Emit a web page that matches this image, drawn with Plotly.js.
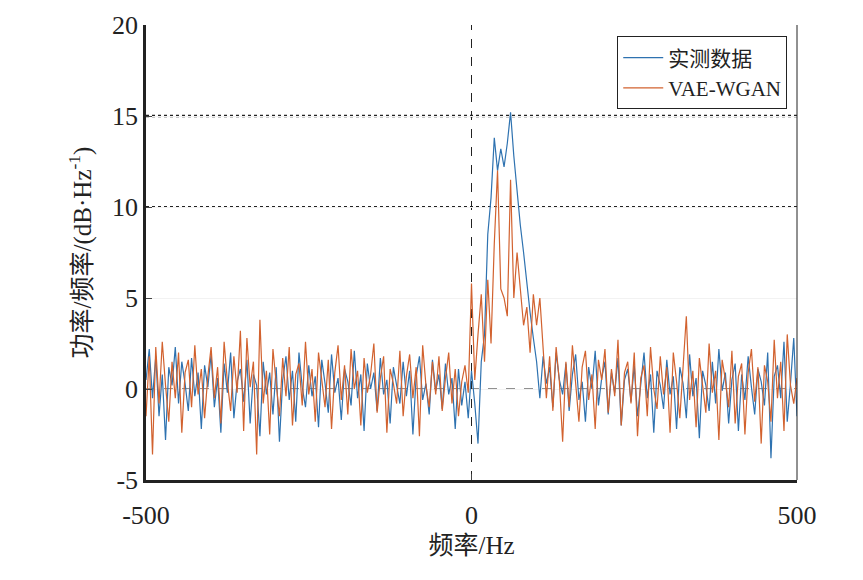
<!DOCTYPE html><html><head><meta charset="utf-8"><script src="https://cdn.plot.ly/plotly-3.0.1.min.js"></script></head><body style="margin:0"><div id="c" style="width:863px;height:580px"></div><script>
const measured=[0.5,2.2,-0.5,1.8,-1.5,0.8,-2.8,1.2,0.2,2.3,
-0.8,1.5,0.3,-1.2,1.7,-0.4,0.9,-2.2,1.3,0.1,
1.9,-1.0,0.6,-2.4,1.4,-0.2,2.0,-1.6,0.4,1.1,
-0.7,1.6,-1.9,0.8,0.2,-2.6,1.5,-0.3,0.9,-1.4,
1.2,-2.9,0.5,1.8,-0.6,1.0,-1.8,2.0,0.1,-1.0,
1.3,-0.4,0.7,-2.1,1.6,0.3,-1.3,1.9,-0.2,0.6,
-1.7,1.1,0.4,-0.9,2.1,-0.5,0.8,-2.3,1.4,0.0,
0.9,-1.2,1.7,-0.3,0.5,-1.9,1.2,0.2,-0.8,1.5,
-0.4,1.0,-2.5,0.7,1.8,-0.6,0.3,-1.4,1.6,-0.1,
0.8,-1.1,1.4,-0.3,0.6,-2.2,1.1,-0.9,0.4,-1.6,
1.0,-0.8,-3.0,1.5,3.0,8.5,10.5,13.8,12.0,13.2,
12.2,13.5,15.2,12.8,10.8,9.0,7.5,5.8,4.2,2.8,
1.5,-0.5,1.8,0.3,1.2,-1.0,2.0,0.5,-0.3,1.4,
-1.2,0.8,1.9,-0.6,0.4,-1.8,1.2,0.0,2.1,-0.9,
0.6,1.5,-1.4,0.9,-0.2,1.7,-2.0,0.5,1.1,-0.7,
1.3,-1.5,0.4,2.0,-0.5,0.8,-2.4,1.0,0.2,-1.1,
1.6,-0.3,0.7,-2.2,1.2,0.3,-1.6,1.9,-0.4,0.6,
-2.7,1.0,0.2,-1.2,1.5,-0.8,2.2,-0.1,0.9,-1.9,
0.5,1.4,-2.3,0.8,-0.6,1.8,0.1,-1.4,1.1,0.4,
-0.9,2.0,-3.8,0.7,1.3,-0.5,2.6,-1.8,0.3,2.8,
-1.5];
const vaeWgan=[-1.5,1.8,-3.6,2.3,-0.8,2.6,0.2,-1.8,1.5,-0.5,
2.0,-2.4,0.9,1.6,-1.0,2.4,-0.3,1.1,-1.6,0.7,
2.3,-0.5,1.2,-1.9,2.6,0.4,-1.2,1.8,-0.2,3.2,
-2.3,2.8,0.1,1.5,-3.6,3.8,-0.8,1.0,-2.5,2.2,
0.3,-1.5,1.7,-0.4,2.3,-2.0,0.8,1.4,-0.9,2.6,
-0.3,1.1,-1.8,2.0,0.5,-1.0,1.6,-2.2,0.9,2.4,
-0.6,1.3,-1.4,2.2,0.0,1.0,-2.0,1.7,-0.2,0.8,
2.5,-1.3,0.6,1.8,-2.4,1.1,0.3,-0.8,2.1,-1.5,
0.7,1.9,-0.5,1.2,-2.6,2.4,0.2,-1.0,1.5,-0.3,
1.8,-1.2,0.6,2.0,-0.8,1.1,-1.5,0.4,1.3,-0.2,
5.8,0.5,3.0,5.2,1.5,6.0,2.5,8.0,12.0,5.5,
5.0,4.0,11.5,5.0,7.5,5.5,3.5,4.5,2.0,5.2,
3.5,5.0,2.0,-0.5,1.8,-1.2,2.3,0.4,-2.9,1.5,
-1.0,2.4,0.3,-1.8,1.2,2.1,-0.6,0.8,-2.2,1.6,
0.5,2.2,-1.3,1.1,-0.4,2.7,-2.0,0.9,1.5,-0.8,
2.0,-2.6,0.6,1.3,-1.5,2.3,0.0,-1.1,1.8,-0.3,
1.2,-2.4,2.0,0.4,-1.6,1.4,4.0,-0.6,1.0,-2.1,
1.7,0.2,-1.3,2.5,-0.2,1.0,-2.8,1.6,0.5,-1.0,
2.1,-1.9,0.7,1.4,-2.5,0.9,2.2,-0.7,1.2,-3.0,
1.3,0.4,-1.8,2.7,-0.5,1.5,-2.3,3.0,0.2,-0.8,
0.6];
const xTicks=[-500,0,500], xTickText=['-500','0','500'];
const yTicks=[-5,0,5,10,15,20], yTickText=['-5','0','5','10','15','20'];
const freq=measured.map((_,i)=>-500+5*i);
const F='Liberation Serif, Noto Sans CJK SC, serif';
const dot=(y,w,d)=>({type:'line',xref:'paper',x0:0,x1:1,yref:'y',y0:y,y1:y,line:{color:'#222',width:w,dash:d},layer:'below'});
Plotly.newPlot('c',[
{x:freq,y:measured,type:'scatter',mode:'lines',name:'实测数据',line:{color:'#2e72b0',width:1.2}},
{x:freq,y:vaeWgan,type:'scatter',mode:'lines',name:'VAE-WGAN',line:{color:'#d2622f',width:1.2}}
],{
width:863,height:580,margin:{l:146,r:66,t:25,b:100},paper_bgcolor:'#fff',plot_bgcolor:'#fff',
font:{family:F,size:26,color:'#222'},showlegend:true,
legend:{x:0.985,y:0.975,xanchor:'right',yanchor:'top',bgcolor:'#fff',bordercolor:'#222',borderwidth:1,font:{size:21},itemwidth:40},
xaxis:{range:[-500,500],tickvals:xTicks,ticktext:xTickText,ticks:'inside',ticklen:6,ticklabelstandoff:10,showgrid:false,zeroline:false,showline:true,linewidth:2.5,linecolor:'#222',title:{text:'频率/Hz',standoff:8,font:{size:25}}},
yaxis:{range:[-5,20],tickvals:yTicks,ticktext:yTickText,ticks:'inside',ticklen:6,showgrid:true,gridcolor:'#f2f2f2',zeroline:false,showline:true,linewidth:2.5,linecolor:'#222',title:{text:'功率/频率/(dB·Hz<sup>-1</sup>)',standoff:14,font:{size:25}}},
shapes:[dot(15,2.5,'dot'),dot(10,1.8,'dot'),dot(0,1,'dash'),
{type:'line',xref:'x',x0:0,x1:0,yref:'paper',y0:0,y1:1,line:{color:'#222',width:1,dash:'dash'},layer:'below'},
{type:'line',xref:'paper',x0:1,x1:1,yref:'paper',y0:0,y1:1,line:{color:'#222',width:1}}]
},{displayModeBar:false});
</script></body></html>
